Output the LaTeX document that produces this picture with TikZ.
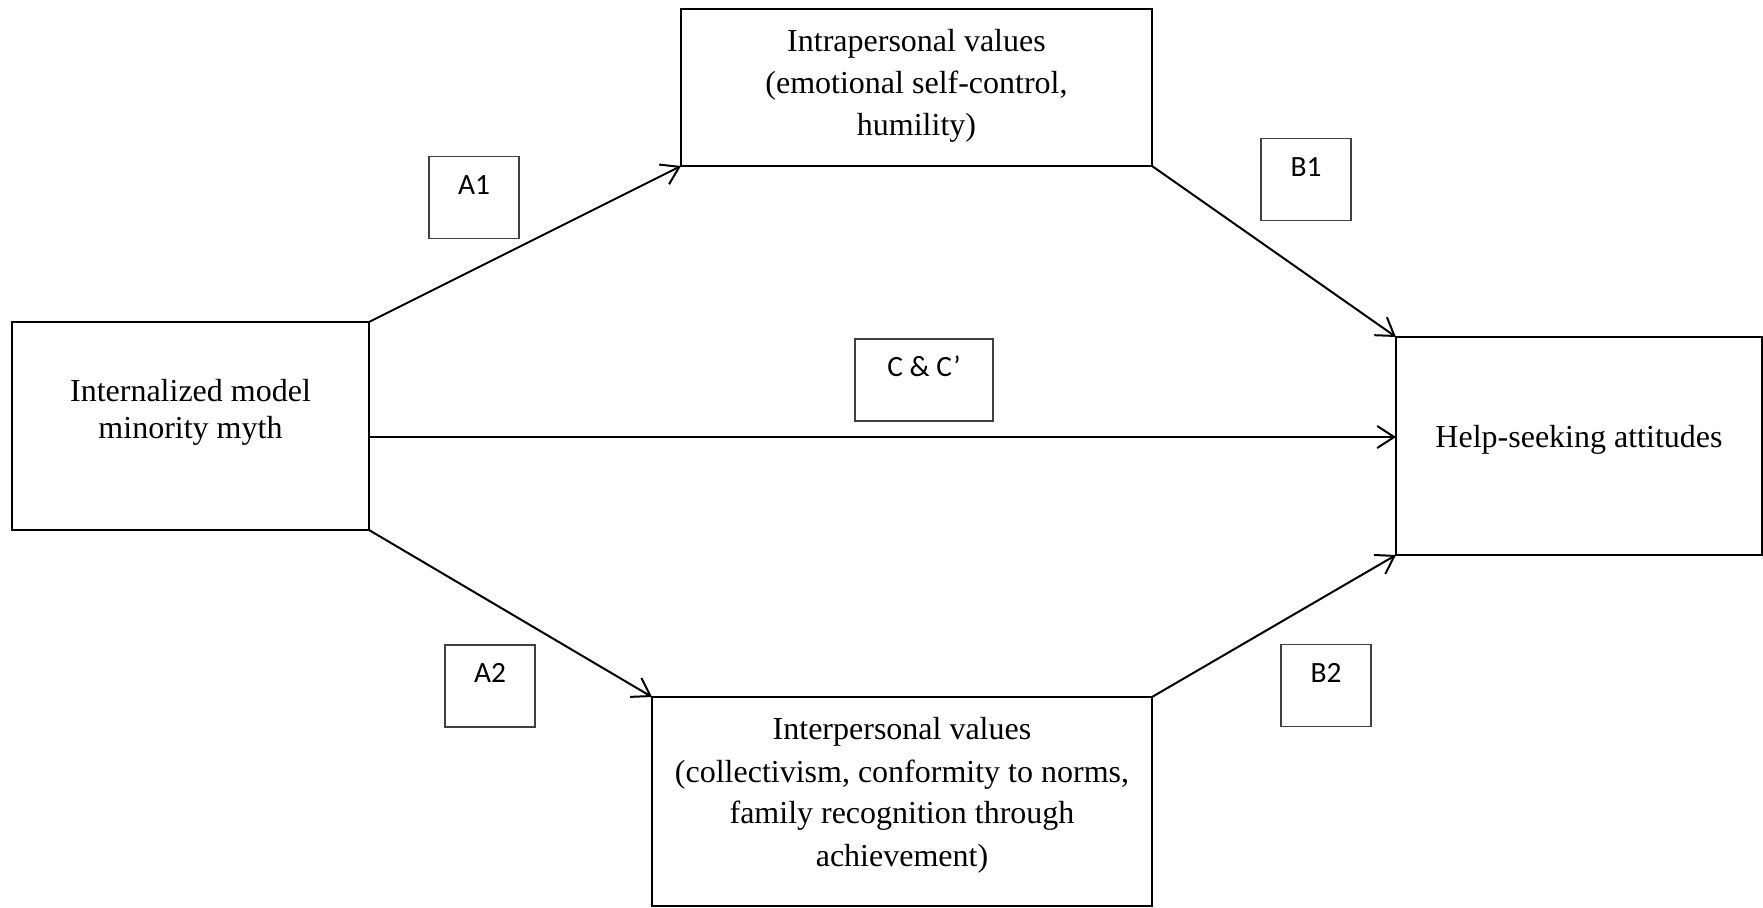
\documentclass[tikz,border=0pt]{standalone}
\usepackage{fontspec}
\setmainfont{Liberation Serif}
\newfontfamily\labfont{Carlito}
\usetikzlibrary{arrows.meta,calc}
\definecolor{labgray}{HTML}{404040}
\tikzset{
  mainbox/.style={draw=black, line width=1pt, rectangle, inner sep=0pt, outer sep=0pt},
  labbox/.style={draw=labgray, line width=0.65pt, rectangle, inner sep=0pt, outer sep=0pt, minimum width=45pt, minimum height=41pt},
  maintext/.style={font=\fontsize{16pt}{21pt}\selectfont, align=center, inner sep=0pt, anchor=base},
  labtext/.style={font=\labfont\fontsize{14.7pt}{17pt}\selectfont, inner sep=0pt, anchor=base},
  path/.style={draw=black, line width=1pt, -{Straight Barb[length=8.5pt,width=11pt,line width=1pt]}}
}
\begin{document}
\begin{tikzpicture}[x=0.5pt,y=-0.5pt]
\useasboundingbox (0,0) rectangle (1763,908);
% main boxes
\node[mainbox, minimum width=178.5pt, minimum height=104pt] (L) at (190.5,426) {};
\node[mainbox, minimum width=235.5pt, minimum height=78.5pt] (T) at (916.5,87.5) {};
\node[mainbox, minimum width=250pt, minimum height=104.5pt] (B) at (902,801.5) {};
\node[mainbox, minimum width=183pt, minimum height=109pt] (R) at (1579,446) {};
% main texts (positioned at the baseline of the last line)
\node[maintext, font=\fontsize{16pt}{18.7pt}\selectfont] (Lt) at (190.5,439) {Internalized model\\minority myth};
\node[maintext] (Tt) at (916.5,135.5) {Intrapersonal values\\(emotional self-control,\\humility)};
\node[maintext] (Bt) at (902,866) {Interpersonal values\\(collectivism, conformity to norms,\\family recognition through\\achievement)};
\node[maintext] (Rt) at (1579,447.5) {Help-seeking attitudes};
% label boxes
\node[labbox] (A1) at (474,197.5) {};
\node[labbox] (B1) at (1306,179.5) {};
\node[labbox, minimum width=69pt] (C) at (924,380) {};
\node[labbox] (A2) at (490,686) {};
\node[labbox] (B2) at (1326,685.5) {};
\node[labtext] (A1t) at ($(A1.north)+(0,38)$) {A1};
\node[labtext] (B1t) at ($(B1.north)+(0,38)$) {B1};
\node[labtext] (Ct) at ($(C.north)+(0,38)$) {C \& C’};
\node[labtext] (A2t) at ($(A2.north)+(0,38)$) {A2};
\node[labtext] (B2t) at ($(B2.north)+(0,38)$) {B2};
% connectors
\coordinate (h) at (0,437);
\draw[path] (L.north east) -- (T.south west);
\draw[path] (T.south east) -- (R.north west);
\draw[path] (L.east |- h) -- (R.west |- h);
\draw[path] (L.south east) -- (B.north west);
\draw[path] (B.north east) -- (R.south west);
\end{tikzpicture}
\end{document}
